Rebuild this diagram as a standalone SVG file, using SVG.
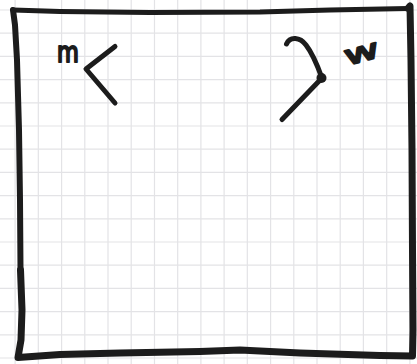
<svg xmlns="http://www.w3.org/2000/svg" width="417" height="364" viewBox="0 0 417 364">
<style>
.grid{stroke:#e3e3e6;stroke-width:1.2;fill:none}
.ink{stroke:#1c1c1c;fill:none;stroke-linecap:round;stroke-linejoin:round}
.lbl{font-family:"DejaVu Sans","Liberation Sans",sans-serif;fill:#1c1c1c;stroke:#1c1c1c;stroke-width:2.2;stroke-linejoin:round}
</style>
<rect width="417" height="364" fill="#ffffff"/>
<g id="grid" class="grid">
<path d="M15.1,0V364M38.3,0V364M61.6,0V364M84.8,0V364M108,0V364M131.2,0V364M154.5,0V364M177.7,0V364M200.9,0V364M224.1,0V364M247.3,0V364M270.6,0V364M293.8,0V364M317,0V364M340.2,0V364M363.4,0V364M386.7,0V364M409.9,0V364"/>
<path d="M0,10H417M0,33.2H417M0,56.4H417M0,79.6H417M0,102.8H417M0,126H417M0,149.2H417M0,172.4H417M0,195.6H417M0,218.8H417M0,242H417M0,265.2H417M0,288.4H417M0,311.6H417M0,334.8H417M0,358H417"/>
</g>
<g id="frame">
<path class="ink" stroke-width="5" d="M13,10 L60,11.5 L150,12.5 L260,12 L330,10 L408,8.5"/>
<path class="ink" stroke-width="7" d="M408,8.5 L410,6 L411,60 L412,150 L412.5,250 L413,330 L412.5,356 L380,355.5 L300,353 L240,350 L200,351.5 L120,353 L60,354.5 L18,357.5 L21,340 L22,310 L20.5,270"/>
<path class="ink" stroke-width="6" d="M20.5,270 L20,200 L19,130 L17,60 L15,25 L13,10"/>
</g>
<g id="node-m">
<text class="lbl" x="57" y="62" font-size="28" transform="translate(57,0) scale(0.8,1) translate(-57,0)">m</text>
<path class="ink" stroke-width="5" d="M115,46.5 L86,69 L115,103"/>
</g>
<g id="node-w">
<text class="lbl" x="344.5" y="62.5" font-size="32" transform="rotate(-15 362 55) translate(344.5,55) scale(1.35,0.85) translate(-344.5,-55)">w</text>
<path class="ink" stroke-width="5" d="M286.5,44 C290,36 300,37 306,45 C313,54 318,67 322,78 L282,119.5"/>
<circle cx="321.5" cy="78" r="5" fill="#1c1c1c"/>
</g>
</svg>
